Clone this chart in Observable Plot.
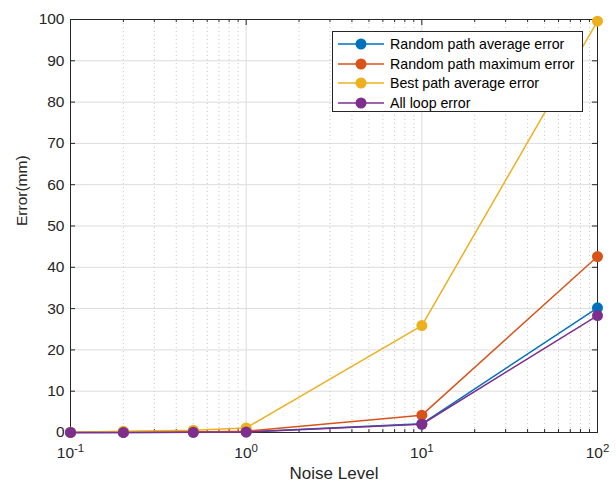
<!DOCTYPE html>
<html><head><meta charset="utf-8">
<script src="https://cdn.jsdelivr.net/npm/d3@7"></script>
<script src="https://cdn.jsdelivr.net/npm/@observablehq/plot@0.6"></script>
<style>
body{margin:0;background:#fff;font-family:"Liberation Sans",Arial,sans-serif;}
#wrap{position:relative;width:616px;height:487px;}
#legend{position:absolute;left:332px;top:31px;width:251px;height:81px;border:1px solid #262626;background:#fff;box-sizing:border-box;font-size:14.2px;color:#000;}
.row{position:absolute;left:0;height:20px;display:flex;align-items:center;}
.row svg{margin-left:4px;margin-right:5px;}
</style></head>
<body><div id="wrap"><div id="legend"></div></div>
<script>
const noise = [0.1, 0.2, 0.5, 1, 10, 100];
const seriesNames = ["Random path average error","Random path maximum error","Best path average error","All loop error"];
const randAvg = [0.01, 0.03, 0.08, 0.15, 2.1, 30.2];
const randMax = [0.02, 0.06, 0.15, 0.3, 4.2, 42.6];
const bestAvg = [0.05, 0.3, 0.55, 1.1, 25.9, 99.6];
const allLoop = [0.01, 0.02, 0.06, 0.12, 2.0, 28.3];
const colors = ["#0072BD","#D95319","#EDB120","#7E2F8E"];
const xMajor = [0.1, 1, 10, 100];
const xLabels = [["10","-1"],["10","0"],["10","1"],["10","2"]];
const yTicks = [0,10,20,30,40,50,60,70,80,90,100];

const allSeries = [randAvg, randMax, bestAvg, allLoop];
const data = [];
allSeries.forEach((vals, si) => vals.forEach((v, i) => data.push({series: seriesNames[si], x: noise[i], y: v})));

const xMinor = [];
for (const d of [0.1, 1, 10]) for (let k = 2; k <= 9; k++) xMinor.push(d * k);

const W = 616, H = 487, mL = 70, mR = 19, mT = 19, mB = 55;
const pw = W - mL - mR, ph = H - mT - mB;
const axisColor = "#262626";

function xLabel(d) {
  let best = 0;
  xMajor.forEach((v, i) => { if (Math.abs(Math.log10(v) - Math.log10(d)) < Math.abs(Math.log10(xMajor[best]) - Math.log10(d))) best = i; });
  return xLabels[best].join("|");
}

const marks = [
  Plot.ruleY(yTicks.slice(1, -1), {stroke: "#dcdcdc", strokeWidth: 1}),
  Plot.ruleX(xMinor, {stroke: "#c8c8c8", strokeWidth: 1, strokeDasharray: "1,3"}),
  Plot.ruleX(xMajor.slice(1, -1), {stroke: "#dcdcdc", strokeWidth: 1}),
  Plot.tickX(xMajor, {x: d => d, insetTop: ph - 6, stroke: axisColor}),
  Plot.tickX(xMajor, {x: d => d, insetBottom: ph - 6, stroke: axisColor}),
  Plot.tickX(xMinor, {x: d => d, insetTop: ph - 3, stroke: axisColor}),
  Plot.tickX(xMinor, {x: d => d, insetBottom: ph - 3, stroke: axisColor}),
  Plot.tickY(yTicks, {y: d => d, insetRight: pw - 5, stroke: axisColor}),
  Plot.tickY(yTicks, {y: d => d, insetLeft: pw - 5, stroke: axisColor}),
  Plot.frame({stroke: axisColor, strokeWidth: 1}),
];
seriesNames.forEach((name, si) => {
  const d = data.filter(r => r.series === name);
  marks.push(Plot.line(d, {x: "x", y: "y", stroke: colors[si], strokeWidth: 1.5}));
  marks.push(Plot.dot(d, {x: "x", y: "y", fill: colors[si], r: 5.5, strokeWidth: 0}));
});
marks.push(
  Plot.axisX(xMajor, {tickSize: 0, tickPadding: 14, tickFormat: xLabel, fontSize: 15.5, color: axisColor, label: null}),
  Plot.axisY(yTicks, {tickSize: 0, tickPadding: 6, fontSize: 15.5, color: axisColor, label: null}),
  Plot.text(["Noise Level"], {frameAnchor: "bottom", dy: 46, fontSize: 17, fill: axisColor}),
  Plot.text(["Error(mm)"], {frameAnchor: "left", dx: -48, rotate: -90, fontSize: 15.5, fill: axisColor})
);

const chart = Plot.plot({
  width: W, height: H,
  marginLeft: mL, marginRight: mR, marginTop: mT, marginBottom: mB,
  style: {fontFamily: '"Liberation Sans", Arial, sans-serif', background: "#fff", overflow: "visible"},
  x: {type: "log", domain: [0.1, 100]},
  y: {domain: [0, 100]},
  marks
});
document.getElementById("wrap").prepend(chart);

chart.querySelectorAll('text').forEach(t => {
  const parts = t.textContent.split("|");
  if (parts.length !== 2) return;
  t.textContent = "";
  const ns = "http://www.w3.org/2000/svg";
  const a = document.createElementNS(ns, "tspan"); a.textContent = parts[0];
  const b = document.createElementNS(ns, "tspan"); b.textContent = parts[1];
  b.setAttribute("dy", "-0.5em"); b.setAttribute("font-size", "11.5px");
  t.append(a, b);
});

const leg = document.getElementById("legend");
seriesNames.forEach((name, si) => {
  const row = document.createElement("div");
  row.className = "row";
  row.style.top = (2 + si * 19.7) + "px";
  row.innerHTML = `<svg width="48" height="14"><line x1="1" x2="47" y1="7" y2="7" stroke="${colors[si]}" stroke-width="1.5"/><circle cx="24" cy="7" r="5.5" fill="${colors[si]}"/></svg><span>${name}</span>`;
  leg.appendChild(row);
});
</script>
</body></html>
